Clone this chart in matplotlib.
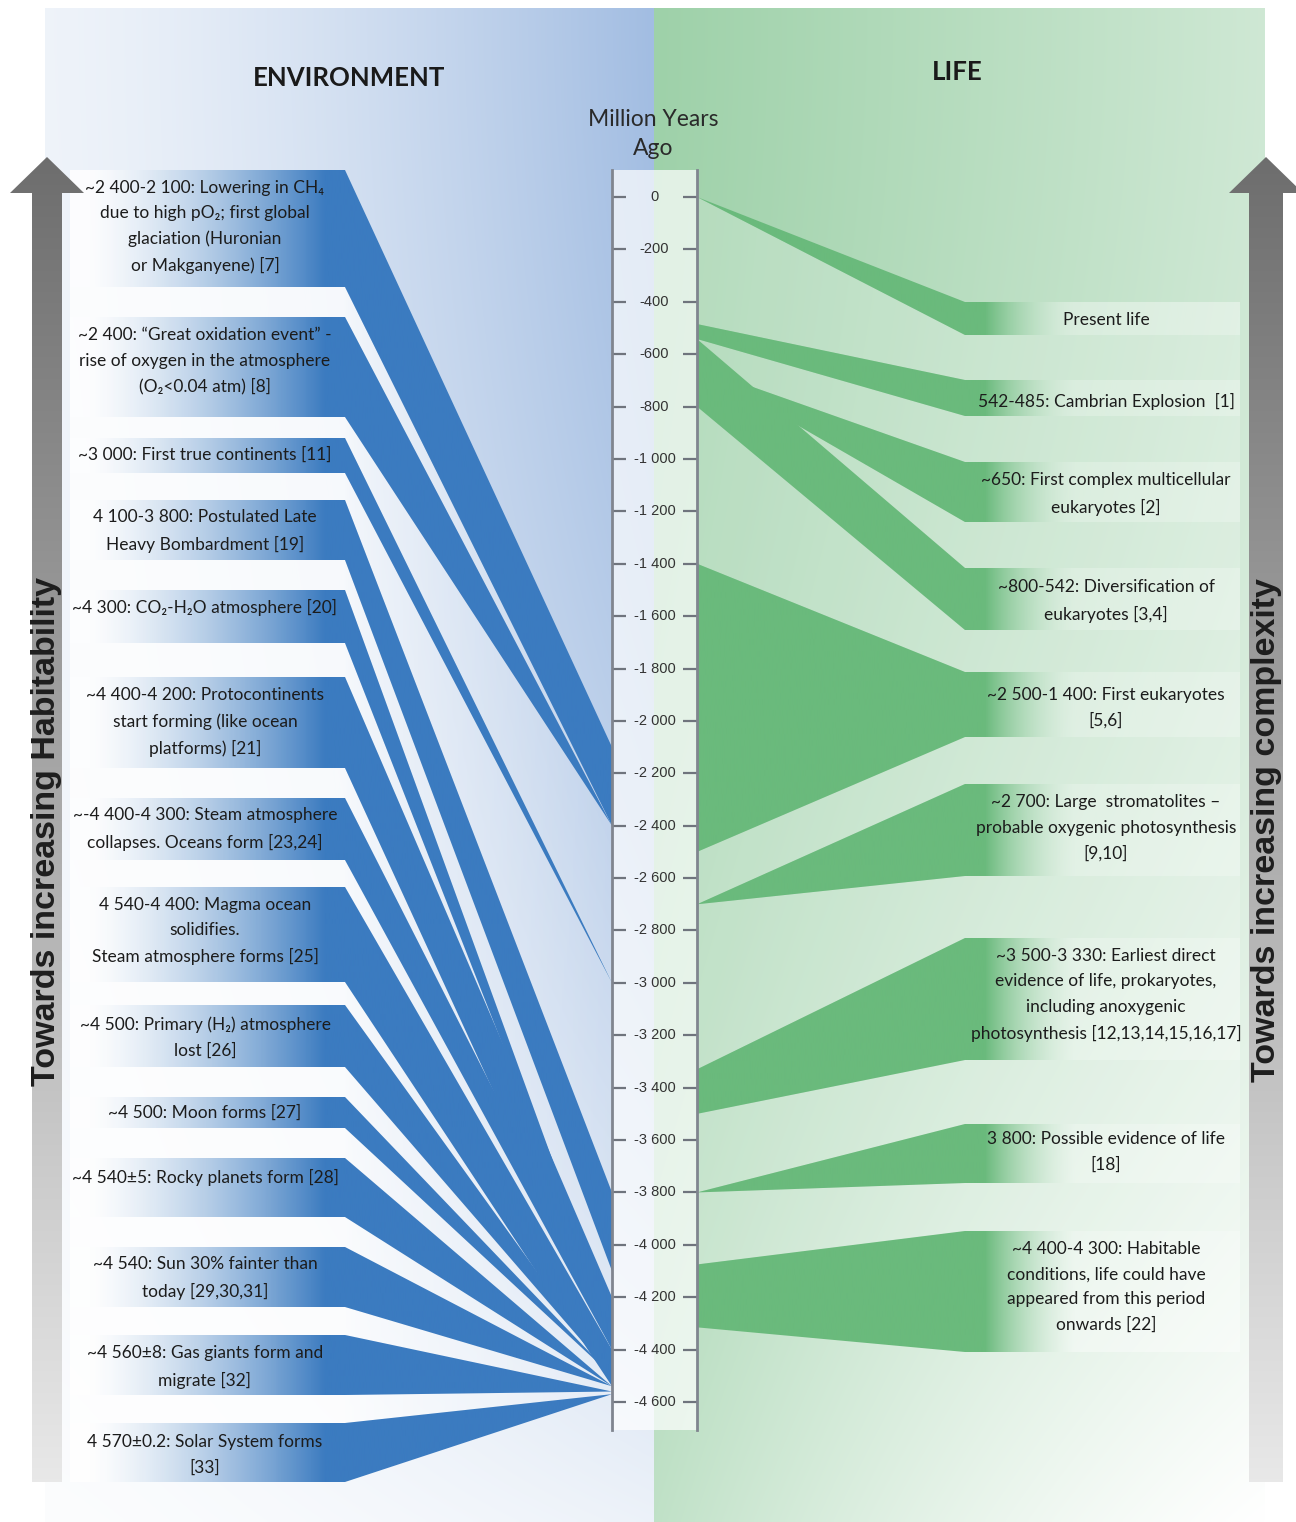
"""
Timeline: Environment vs Life on the early Earth (Million Years Ago)
"""

import numpy as np
import matplotlib
matplotlib.use("Agg")
import matplotlib.pyplot as plt
from matplotlib.patches import Polygon
from matplotlib.colors import to_rgb

plt.rcParams['font.family'] = ['Lato', 'DejaVu Sans']

# ---------------- data ----------------
env_labels = [
    "~2 400-2 100: Lowering in CH\u2084\ndue to high pO\u2082; first global\nglaciation (Huronian\nor Makganyene) [7]",
    "~2 400: \u201cGreat oxidation event\u201d -\nrise of oxygen in the atmosphere\n(O\u2082<0.04 atm) [8]",
    "~3 000: First true continents [11]",
    "4 100-3 800: Postulated Late\nHeavy Bombardment [19]",
    "~4 300: CO\u2082-H\u2082O atmosphere [20]",
    "~4 400-4 200: Protocontinents\nstart forming (like ocean\nplatforms) [21]",
    "~-4 400-4 300: Steam atmosphere\ncollapses. Oceans form [23,24]",
    "4 540-4 400: Magma ocean\nsolidifies.\nSteam atmosphere forms [25]",
    "~4 500: Primary (H\u2082) atmosphere\nlost [26]",
    "~4 500: Moon forms [27]",
    "~4 540\u00b15: Rocky planets form [28]",
    "~4 540: Sun 30% fainter than\ntoday [29,30,31]",
    "~4 560\u00b18: Gas giants form and\nmigrate [32]",
    "4 570\u00b10.2: Solar System forms\n[33]",
]
# where each environment event meets the time axis (Mya)
env_start = [-2100, -2400, -3000, -3800, -4300, -4200, -4300, -4400, -4500, -4500, -4540, -4540, -4560, -4570]
env_end = [-2400, -2400, -3000, -4100, -4300, -4400, -4400, -4540, -4500, -4500, -4540, -4540, -4560, -4570]

life_labels = [
    "Present life",
    "542-485: Cambrian Explosion  [1]",
    "~650: First complex multicellular\neukaryotes [2]",
    "~800-542: Diversification of\neukaryotes [3,4]",
    "~2 500-1 400: First eukaryotes\n[5,6]",
    "~2 700: Large  stromatolites \u2013\nprobable oxygenic photosynthesis\n[9,10]",
    "~3 500-3 330: Earliest direct\nevidence of life, prokaryotes,\nincluding anoxygenic\nphotosynthesis [12,13,14,15,16,17]",
    "3 800: Possible evidence of life\n[18]",
    "~4 400-4 300: Habitable\nconditions, life could have\nappeared from this period\nonwards [22]",
]
life_start = [0, -485, -650, -542, -1400, -2700, -3330, -3800, -4075]
life_end = [0, -542, -650, -800, -2500, -2700, -3500, -3800, -4315]

tick_values = list(range(0, -4601, -200))

# ---------------- layout (pixels) ----------------
W, H = 1296, 1522
AX_L, AX_R, AX_TOP, AX_BOT = 612, 697, 170, 1430
Y_ZERO, Y_4600 = 197, 1402

env_bands = [(170, 287), (317, 417), (438, 473), (500, 560), (590, 643), (677, 768), (798, 860),
             (887, 982), (1005, 1067), (1097, 1128), (1158, 1217), (1247, 1307), (1335, 1395), (1423, 1482)]
env_text_y = [227, 361, 455, 531, 607, 722, 829, 931, 1038, 1113, 1177, 1278, 1367, 1455]
life_bands = [(302, 335), (380, 416), (462, 522), (568, 630), (672, 737), (784, 876),
              (938, 1060), (1124, 1183), (1231, 1352)]
life_text_y = [320, 401, 494, 601, 708, 828, 995, 1152, 1287]

BLUE = np.array(to_rgb('#3b7bc0'))
GREEN = np.array(to_rgb('#6aba7c'))
TXT = '#1c1c1c'

fig = plt.figure(figsize=(W / 100, H / 100), dpi=100)
ax = fig.add_axes([0, 0, 1, 1])
ax.set_xlim(0, W)
ax.set_ylim(H, 0)
ax.axis('off')

# time axis
tax = fig.add_axes([AX_L / W, 1 - AX_BOT / H, (AX_R - AX_L) / W, (AX_BOT - AX_TOP) / H])
k = (Y_4600 - Y_ZERO) / 4600.0
tax.set_ylim(-(AX_BOT - Y_ZERO) / k, (Y_ZERO - AX_TOP) / k)
tax.set_xlim(0, 1)
tax.set_xticks([])
tax.set_yticks([])
tax.patch.set_facecolor('white')
tax.patch.set_alpha(0.7)
for s in ['top', 'bottom']:
    tax.spines[s].set_visible(False)
for s in ['left', 'right']:
    tax.spines[s].set_color('#80858f')
    tax.spines[s].set_linewidth(2)
tax.hlines(tick_values, 0, 0.16, color='#6f747d', lw=1.6)
tax.hlines(tick_values, 0.84, 1, color='#6f747d', lw=1.6)
for v in tick_values:
    tax.text(0.5, v, f"{v:,}".replace(",", " "), ha='center', va='center',
             fontsize=10.5, color='#333333', family='Liberation Sans')


def axis_y(v):
    disp = tax.transData.transform((0, v))
    return ax.transData.inverted().transform(disp)[1]


def hgrad(poly, x0, x1, color_fn, z):
    xs = np.linspace(x0, x1, 400)
    img = color_fn(xs)[None, :, :]
    patch = Polygon(poly, closed=True, fill=False, lw=0)
    ax.add_patch(patch)
    im = ax.imshow(img, extent=(x0, x1, H, 0), aspect='auto',
                   interpolation='bilinear', zorder=z)
    im.set_clip_path(patch)


# ---------------- background panels ----------------
u = np.linspace(0, 1, 300)[None, :]
v = np.linspace(0, 1, 400)[:, None]
a = (0.18 + 0.82 * u ** 1.4) * (1 - 0.8 * v ** 1.8)
left_bg = 1 - a[:, :, None] * (1 - np.array(to_rgb('#a2bde2')))
ax.imshow(left_bg, extent=(45, 654, H, 8), aspect='auto', interpolation='bilinear', zorder=0)
a = (1 - 0.5 * u) * (1 - v ** 2 * (0.35 + 0.65 * u))
right_bg = 1 - a[:, :, None] * (1 - np.array(to_rgb('#9ed1a9')))
ax.imshow(right_bg, extent=(654, 1265, H, 8), aspect='auto', interpolation='bilinear', zorder=0)
ax.set_xlim(0, W)
ax.set_ylim(H, 0)


# ---------------- environment (blue) ----------------
def blue_band(xs):
    t = np.clip((xs - 90) / (325 - 90), 0, 1) ** 1.3
    c0 = np.array([1, 1, 1, 0.85])
    c1 = np.append(BLUE, 1.0)
    return (1 - t)[:, None] * c0 + t[:, None] * c1


def white_gap(xs):
    al = 0.8 - 0.74 * np.clip((xs - 345) / (AX_L - 345), 0, 1) ** 0.6
    out = np.ones((len(xs), 4))
    out[:, 3] = al
    return out


env_ya = [axis_y(s) for s in env_start]
env_yb = [axis_y(e) for e in env_end]
for i in range(len(env_labels) - 1):
    gap = [(70, env_bands[i][1]), (345, env_bands[i][1]), (AX_L, env_yb[i]),
           (AX_L, env_ya[i + 1]), (345, env_bands[i + 1][0]), (70, env_bands[i + 1][0])]
    hgrad(gap, 70, AX_L, white_gap, 2)
for i, lab in enumerate(env_labels):
    top, bot = env_bands[i]
    poly = [(70, top), (345, top), (AX_L, env_ya[i]), (AX_L, env_yb[i]), (345, bot), (70, bot)]
    hgrad(poly, 70, AX_L, blue_band, 3)
    ax.text(205, env_text_y[i], lab, ha='center', va='center', fontsize=12.5,
            linespacing=1.72, color=TXT, zorder=6)


# ---------------- life (green) ----------------
def green_band(xs):
    t = np.clip((xs - 985) / (1075 - 985), 0, 1)
    c0 = np.append(GREEN, 1.0)
    c1 = np.array([1, 1, 1, 0.4])
    return (1 - t)[:, None] * c0 + t[:, None] * c1


def green_gap(xs):
    out = np.ones((len(xs), 4))
    out[:, 3] = 0.22
    return out


life_ya = [axis_y(s) for s in life_start]
life_yb = [axis_y(e) for e in life_end]
for i in range(len(life_labels) - 1):
    gap = [(AX_R, life_yb[i]), (965, life_bands[i][1]), (1240, life_bands[i][1]),
           (1240, life_bands[i + 1][0]), (965, life_bands[i + 1][0]), (AX_R, life_ya[i + 1])]
    hgrad(gap, AX_R, 1240, green_gap, 2)
for i, lab in enumerate(life_labels):
    top, bot = life_bands[i]
    poly = [(AX_R, life_ya[i]), (965, top), (1240, top), (1240, bot), (965, bot), (AX_R, life_yb[i])]
    hgrad(poly, AX_R, 1240, green_band, 3)
    ax.text(1106, life_text_y[i], lab, ha='center', va='center', fontsize=12.5,
            linespacing=1.72, color=TXT, zorder=6)


# ---------------- grey arrows ----------------
def grey_arrow(cx, tip_y, head_y, bottom, head_hw, shaft_hw):
    poly = [(cx, tip_y), (cx + head_hw, head_y), (cx + shaft_hw, head_y), (cx + shaft_hw, bottom),
            (cx - shaft_hw, bottom), (cx - shaft_hw, head_y), (cx - head_hw, head_y)]
    patch = Polygon(poly, closed=True, fill=False, lw=0)
    ax.add_patch(patch)
    ys = np.linspace(0, 1, 300)[:, None]
    g = 0.43 + 0.48 * ys
    img = np.repeat(g, 3, axis=1)[:, None, :]
    im = ax.imshow(img, extent=(cx - head_hw, cx + head_hw, bottom, tip_y), aspect='auto',
                   interpolation='bilinear', zorder=4)
    im.set_clip_path(patch)


grey_arrow(47, 157, 193, 1482, 37, 15)
grey_arrow(1266, 157, 193, 1482, 37, 17)
ax.set_xlim(0, W)
ax.set_ylim(H, 0)

ax.text(47, 831, "Towards increasing Habitability", rotation=90, ha='center', va='center',
        fontsize=24.5, fontweight='bold', family='Liberation Sans', color='#1e1e1e', zorder=6)
ax.text(1266, 830, "Towards increasing complexity", rotation=90, ha='center', va='center',
        fontsize=24.5, fontweight='bold', family='Liberation Sans', color='#1e1e1e', zorder=6)

# ---------------- headings ----------------
ax.text(349, 78, "ENVIRONMENT", ha='center', va='center', fontsize=18.5,
        fontweight='bold', color='#1a1a1a', zorder=6)
ax.text(957, 72, "LIFE", ha='center', va='center', fontsize=18.5,
        fontweight='bold', color='#1a1a1a', zorder=6)
ax.text(653, 134, "Million Years\nAgo", ha='center', va='center', fontsize=16.5,
        linespacing=1.45, color='#2a2a2a', zorder=6)

fig.savefig('out.png', dpi=100, facecolor='white')
